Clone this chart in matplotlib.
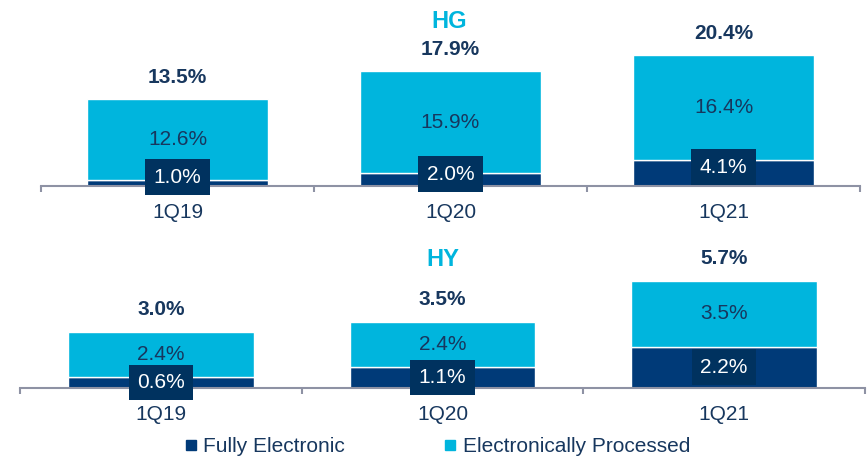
import matplotlib.pyplot as plt
from matplotlib.lines import Line2D

plt.rcParams['font.family'] = ['Liberation Sans', 'DejaVu Sans']

quarters = ["1Q19", "1Q20", "1Q21"]
hg_fully = [1.0, 2.0, 4.1]
hg_processed = [12.6, 15.9, 16.4]
hg_total = [13.5, 17.9, 20.4]
hy_fully = [0.6, 1.1, 2.2]
hy_processed = [2.4, 2.4, 3.5]
hy_total = [3.0, 3.5, 5.7]

NAVY = "#003A78"
BOX = "#00325F"
CYAN = "#00B5DD"
TEXT = "#17375E"
AXIS = "#8E92A4"

W, H = 867, 459
fig = plt.figure(figsize=(W / 100, H / 100), dpi=100)


def px_axes(left, right, base, top):
    return fig.add_axes([left / W, 1 - base / H, (right - left) / W, (base - top) / H])


def draw_panel(ax, fully, processed, total, ymax, fully_shift):
    x = range(len(quarters))
    ax.bar(x, fully, width=0.66, color=NAVY, edgecolor="white", linewidth=1)
    ax.bar(x, processed, width=0.66, bottom=fully, color=CYAN,
           edgecolor="white", linewidth=1)
    ax.set_xlim(-0.5, 2.5)
    ax.set_ylim(0, ymax)

    for i in x:
        ax.annotate(f"{total[i]:.1f}%", (i, total[i]), xytext=(0, 16),
                    textcoords="offset points", ha="center", va="center",
                    fontsize=15, fontweight="bold", color=TEXT)
        ax.text(i, fully[i] + processed[i] / 2, f"{processed[i]:.1f}%",
                ha="center", va="center", fontsize=15, color=TEXT)
        ax.annotate(f"{fully[i]:.1f}%", (i, fully[i] / 2), xytext=(0, fully_shift),
                    textcoords="offset points", ha="center", va="center",
                    fontsize=15, color="white",
                    bbox=dict(boxstyle="square,pad=0.4", fc=BOX, ec="none"))

    for side in ("left", "right", "top"):
        ax.spines[side].set_visible(False)
    ax.spines["bottom"].set_color(AXIS)
    ax.spines["bottom"].set_linewidth(1.5)
    ax.set_yticks([])
    ax.set_xticks([-0.5, 0.5, 1.5, 2.5])
    ax.set_xticklabels([])
    ax.set_xticks([0, 1, 2], minor=True)
    ax.set_xticklabels(quarters, minor=True, fontsize=15, color=TEXT)
    ax.tick_params(axis="x", which="major", length=4.5, width=1.5, color=AXIS)
    ax.tick_params(axis="x", which="minor", length=0, pad=12.5)
    ax.set_facecolor("none")


ax_hg = px_axes(41, 860, 186, 0)
draw_panel(ax_hg, hg_fully, hg_processed, hg_total, 186 / 6.4, 4)

ax_hy = px_axes(20, 865, 388, 240)
draw_panel(ax_hy, hy_fully, hy_processed, hy_total, 148 / 18.8, 0)

fig.text(449 / W, 1 - 22 / H, "HG", ha="center", va="center",
         fontsize=17, fontweight="bold", color=CYAN)
fig.text(443 / W, 1 - 260 / H, "HY", ha="center", va="center",
         fontsize=17, fontweight="bold", color=CYAN)

handles = [
    Line2D([], [], marker="s", linestyle="none", markersize=7, color=NAVY),
    Line2D([], [], marker="s", linestyle="none", markersize=7, color=CYAN),
]
fig.legend(handles, ["Fully Electronic", "Electronically Processed"],
           loc="center", bbox_to_anchor=(438 / W, 1 - 447 / H), ncol=2,
           frameon=False, fontsize=15, labelcolor=TEXT, handlelength=0.5,
           handletextpad=0.35, columnspacing=4.8)

fig.savefig("out.png", dpi=100)
